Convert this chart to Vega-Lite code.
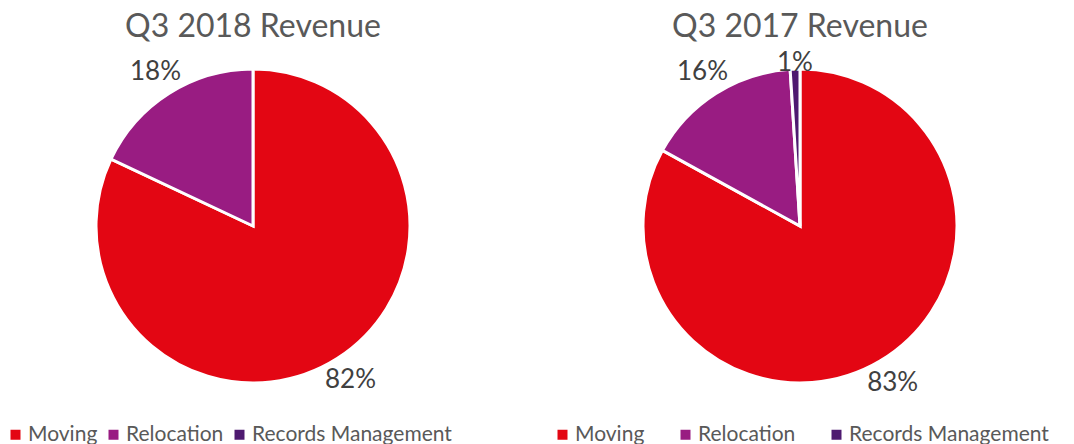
{
  "$schema": "https://vega.github.io/schema/vega-lite/v6.json",
  "background": "white",
  "padding": {"left": 5, "top": 11, "right": 5, "bottom": 0},
  "spacing": 51,
  "config": {"view": {"stroke": null}, "font": "Lato"},
  "resolve": {"scale": {"color": "independent"}, "legend": {"color": "independent"}},
  "hconcat": [
    {
      "width": 496,
      "height": 396,
      "title": {"text": "Q3 2018 Revenue", "fontSize": 32, "fontWeight": "normal", "color": "#595959", "font": "Lato", "offset": -16},
      "data": {"values": [
        {"category": "Moving", "value": 82, "label": "82%"},
        {"category": "Relocation", "value": 18, "label": "18%"}
      ]},
      "encoding": {
        "theta": {"field": "value", "type": "quantitative", "stack": true},
        "order": {"field": "value", "type": "quantitative", "sort": "descending"}
      },
      "layer": [
        {
          "mark": {"type": "arc", "outerRadius": 157, "stroke": "white", "strokeWidth": 3},
          "encoding": {
            "color": {
              "field": "category", "type": "nominal",
              "scale": {"domain": ["Moving", "Relocation", "Records Management"], "range": ["#E30613", "#991C82", "#4E1A70"]},
              "legend": {"title": null, "orient": "bottom", "direction": "horizontal", "offset": 0, "symbolType": "square", "symbolSize": 100, "symbolStrokeWidth": 0, "labelFontSize": 21, "labelLimit": 400, "labelColor": "#595959", "labelFont": "Lato", "columnPadding": 5, "symbolOffset": 0, "labelOffset": 2}
            }
          }
        },
        {"mark": {"type": "text", "radius": 182, "fontSize": 26, "color": "#404040", "font": "Lato"}, "encoding": {"text": {"field": "label"}}}
      ]
    },
    {
      "width": 496,
      "height": 396,
      "title": {"text": "Q3 2017 Revenue", "fontSize": 32, "fontWeight": "normal", "color": "#595959", "font": "Lato", "offset": -16},
      "data": {"values": [
        {"category": "Moving", "value": 83, "label": "83%"},
        {"category": "Relocation", "value": 16, "label": "16%"},
        {"category": "Records Management", "value": 1, "label": "1%"}
      ]},
      "encoding": {
        "theta": {"field": "value", "type": "quantitative", "stack": true},
        "order": {"field": "value", "type": "quantitative", "sort": "descending"}
      },
      "layer": [
        {
          "mark": {"type": "arc", "outerRadius": 157, "stroke": "white", "strokeWidth": 3},
          "encoding": {
            "color": {
              "field": "category", "type": "nominal",
              "scale": {"domain": ["Moving", "Relocation", "Records Management"], "range": ["#E30613", "#991C82", "#4E1A70"]},
              "legend": {"title": null, "orient": "bottom", "direction": "horizontal", "offset": 0, "symbolType": "square", "symbolSize": 100, "symbolStrokeWidth": 0, "labelFontSize": 21, "labelLimit": 400, "labelColor": "#595959", "labelFont": "Lato", "columnPadding": 30, "symbolOffset": 0, "labelOffset": 2}
            }
          }
        },
        {
          "mark": {"type": "text", "radius": 182, "fontSize": 26, "color": "#404040", "font": "Lato"},
          "encoding": {"text": {"condition": {"test": "datum.value >= 5", "field": "label"}, "value": ""}}
        },
        {
          "mark": {"type": "text", "radius": 163, "fontSize": 26, "color": "#404040", "font": "Lato"},
          "encoding": {"text": {"condition": {"test": "datum.value < 5", "field": "label"}, "value": ""}}
        }
      ]
    }
  ]
}
